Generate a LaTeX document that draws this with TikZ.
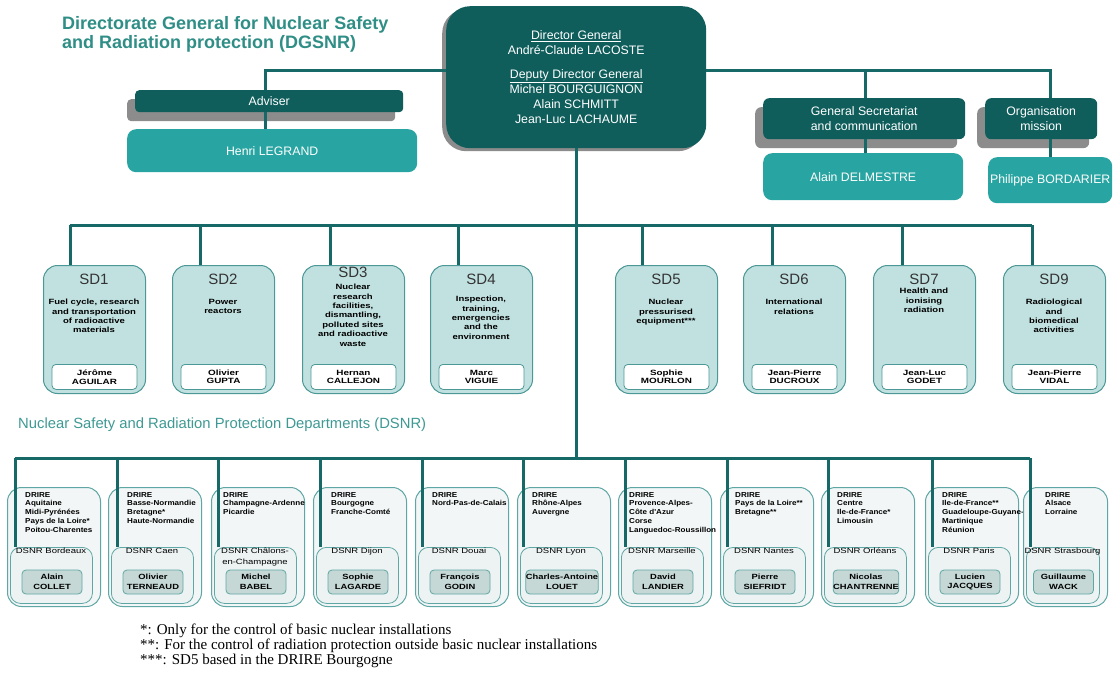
\documentclass[tikz,border=0pt]{standalone}
\usepackage{fontspec}
\setmainfont{Liberation Sans}
\newfontfamily\notefont{Liberation Serif}
\newfontfamily\wideA{Liberation Sans}[FakeStretch=1.25]
\newfontfamily\wideB{Liberation Sans}[FakeStretch=1.12]
\newfontfamily\wideC{Liberation Sans}[FakeStretch=1.3]
\usetikzlibrary{shadows}
\definecolor{dteal}{HTML}{0F5E5C}
\definecolor{mteal}{HTML}{28A5A2}
\definecolor{connc}{HTML}{176967}
\definecolor{titlec}{HTML}{2F8E86}
\definecolor{labc}{HTML}{3E9993}
\definecolor{shadowc}{HTML}{8C8C8C}
\definecolor{sdfill}{HTML}{C1E1E1}
\definecolor{sdborder}{HTML}{4B9896}
\definecolor{ofill}{HTML}{F2F6F6}
\definecolor{ifill}{HTML}{EDF3F3}
\definecolor{obord}{HTML}{5FA7A4}
\definecolor{nfill}{HTML}{C5D8D6}
\tikzset{
  conn/.style={draw=connc, line width=3pt},
  titletext/.style={font=\fontsize{18}{20}\selectfont\bfseries, text=titlec, inner sep=0pt},
  darkbox/.style={fill=dteal, draw=none, text=white, inner sep=0pt, align=center, font=\fontsize{12.3}{15}\selectfont},
  midbox/.style={fill=mteal, draw=none, text=white, inner sep=0pt, align=center, rounded corners=9pt, font=\fontsize{12.3}{15}\selectfont},
  shadowed/.style={drop shadow={shadow xshift=-8pt, shadow yshift=-9pt, fill=shadowc, opacity=1}},
  sdbox/.style={draw=sdborder, line width=1pt, fill=sdfill, rounded corners=14pt, minimum height=128pt, inner sep=0pt},
  sdlabel/.style={font=\fontsize{15}{16}\selectfont, text=black!80, inner sep=0pt},
  sddesc/.style={font=\wideA\fontsize{7.6}{9.4}\selectfont\bfseries, align=center, inner sep=0pt},
  sdname/.style={draw=sdborder, line width=0.8pt, fill=white, rounded corners=4pt, minimum height=25pt, inner sep=0pt, align=center, font=\wideC\fontsize{7.6}{8.6}\selectfont\bfseries},
  outerbox/.style={draw=obord, line width=1pt, fill=ofill, rounded corners=14pt, minimum height=119pt, inner sep=0pt},
  innerbox/.style={draw=obord, line width=0.8pt, fill=ifill, rounded corners=10pt, minimum height=56pt, inner sep=0pt},
  drire/.style={font=\wideB\fontsize{7.2}{8.8}\selectfont\bfseries, align=left, inner sep=0pt},
  dsnrtitle/.style={font=\wideA\fontsize{7.6}{10.5}\selectfont, align=center, inner sep=0pt},
  namebox/.style={draw=obord, line width=0.8pt, fill=nfill, rounded corners=4pt, minimum width=60pt, minimum height=24pt, inner sep=0pt, align=center, font=\wideA\fontsize{7.5}{9.5}\selectfont\bfseries},
  dsnrlabel/.style={font=\fontsize{14.8}{16}\selectfont, text=labc, inner sep=0pt},
  note/.style={font=\notefont\fontsize{15}{15}\selectfont, inner sep=0pt}
}
% SD unit: name, left, width, drop x, label, label y, description, description top y, head
\newcommand{\sdunit}[9]{%
  \pgfmathsetmacro{\sdcx}{#2+#3/2}%
  \pgfmathsetmacro{\sdnw}{#3-17}%
  \node[sdbox, minimum width=#3pt, anchor=north west] (#1) at (#2,265) {};
  \node[sdlabel] (#1l) at (\sdcx,#6) {#5};
  \node[sddesc, anchor=north] (#1t) at (\sdcx,#8) {#7};
  \node[sdname, minimum width=\sdnw pt, anchor=north] (#1n) at (\sdcx+0.5,364) {#9};
  \coordinate (#1d) at (#4,225);
  \draw[conn] (#1d) -- (#1d |- #1.north);
}
% DSNR unit: name, left, width, drop x, text x, DRIRE text, DSNR title, head
\newcommand{\dsnrunit}[8]{%
  \pgfmathsetmacro{\dcx}{#2+3+(#3-11)/2}%
  \pgfmathsetmacro{\diw}{#3-11}%
  \node[outerbox, minimum width=#3pt, anchor=north west] (#1) at (#2,487) {};
  \node[drire, anchor=north west] (#1t) at (#5,492) {#6};
  \node[innerbox, minimum width=\diw pt, anchor=north west] (#1i) at (#2+3,547) {};
  \node[dsnrtitle, anchor=north] (#1s) at (\dcx,548) {#7};
  \node[namebox] (#1n) at (\dcx+1,582) {#8};
  \coordinate (#1d) at (#4,458);
  \draw[conn] (#1d) -- (#1d |- #1i.north);
}
\begin{document}
\begin{tikzpicture}[x=1pt,y=-1pt]
\useasboundingbox[fill=white] (0,0) rectangle (1113,674);

% title
\node[titletext, anchor=base west] (title1) at (62,30) {Directorate General for Nuclear Safety};
\node[titletext, anchor=base west] (title2) at (62,49) {and Radiation protection (DGSNR)};

% top boxes
\node[darkbox, rounded corners=24pt, minimum width=260pt, minimum height=142pt, anchor=north west,
  drop shadow={shadow xshift=-4pt, shadow yshift=-3pt, fill=shadowc, opacity=1},
  font=\fontsize{12.3}{15}\selectfont] (dg) at (446,6)
  {\underline{Director General}\\André-Claude LACOSTE\\[9pt]\underline{Deputy Director General}\\Michel BOURGUIGNON\\Alain SCHMITT\\Jean-Luc LACHAUME};
\node[darkbox, shadowed, rounded corners=4pt, minimum width=268pt, minimum height=22pt, anchor=north west] (adv) at (135,90) {Adviser};
\node[midbox, minimum width=290pt, minimum height=43pt, anchor=north west] (henri) at (127,129) {Henri LEGRAND};
\node[darkbox, shadowed, rounded corners=6pt, minimum width=202pt, minimum height=41pt, anchor=north west] (gs) at (763,98) {General Secretariat\\and communication};
\node[midbox, minimum width=200pt, minimum height=47pt, anchor=north west] (alain) at (763,153) {Alain DELMESTRE};
\node[darkbox, shadowed, rounded corners=6pt, minimum width=112pt, minimum height=41pt, anchor=north west] (org) at (985,98) {Organisation\\mission};
\node[midbox, minimum width=124pt, minimum height=46pt, anchor=north west] (phil) at (988,157) {Philippe BORDARIER};

% top connectors
\coordinate (tl) at (265,71);
\coordinate (tr) at (1050,71);
\coordinate (tg) at (865,71);
\draw[conn] (dg.west |- tl) -- (tl) -- (adv.north -| tl);
\draw[conn] (adv.south -| tl) -- (henri.north -| tl);
\draw[conn] (dg.east |- tr) -- (tr) -- (org.north -| tr);
\draw[conn] (org.south -| tr) -- (phil.north -| tr);
\draw[conn] (tg) -- (gs.north -| tg);
\draw[conn] (gs.south -| tg) -- (alain.north -| tg);

% sub-directorates
\sdunit{sd1}{43}{102}{70}{SD1}{279}{Fuel cycle, research\\and transportation\\of radioactive\\materials}{299}{Jérôme\\AGUILAR}
\sdunit{sd2}{172}{102}{200}{SD2}{279}{Power\\reactors}{299}{Olivier\\GUPTA}
\sdunit{sd3}{302}{102}{330}{SD3}{272}{\fontsize{7.6}{10.2}\selectfont Nuclear\\research\\facilities,\\dismantling,\\polluted sites\\and radioactive\\waste}{284}{Hernan\\CALLEJON}
\sdunit{sd4}{430}{102}{458}{SD4}{279}{Inspection,\\training,\\emergencies\\and the\\environment}{296}{Marc\\VIGUIE}
\sdunit{sd5}{615}{102}{642}{SD5}{279}{Nuclear\\pressurised\\equipment***}{299}{Sophie\\MOURLON}
\sdunit{sd6}{743}{102}{772}{SD6}{279}{International\\relations}{299}{Jean-Pierre\\DUCROUX}
\sdunit{sd7}{873}{102}{902}{SD7}{279}{Health and\\ionising\\radiation}{288}{Jean-Luc\\GODET}
\sdunit{sd9}{1003}{102}{1032}{SD9}{279}{Radiological\\and\\biomedical\\activities}{299}{Jean-Pierre\\VIDAL}

\node[dsnrlabel, anchor=west] (dlabel) at (18,425) {Nuclear Safety and Radiation Protection Departments (DSNR)};

% DSNR units
\dsnrunit{b1}{7}{93}{15}{25}{DRIRE\\Aquitaine\\Midi-Pyrénées\\Pays de la Loire*\\Poitou-Charentes}{DSNR Bordeaux}{Alain\\COLLET}
\dsnrunit{b2}{108}{93}{117}{127}{DRIRE\\Basse-Normandie\\Bretagne*\\Haute-Normandie}{DSNR Caen}{Olivier\\TERNEAUD}
\dsnrunit{b3}{211}{93}{218}{223}{DRIRE\\Champagne-Ardenne\\Picardie}{DSNR Châlons-\\en-Champagne}{Michel\\BABEL}
\dsnrunit{b4}{313}{93}{320}{331}{DRIRE\\Bourgogne\\Franche-Comté}{DSNR Dijon}{Sophie\\LAGARDE}
\dsnrunit{b5}{415}{93}{422}{432}{DRIRE\\Nord-Pas-de-Calais}{DSNR Douai}{François\\GODIN}
\dsnrunit{b6}{517}{93}{523}{532}{DRIRE\\Rhône-Alpes\\Auvergne}{DSNR Lyon}{Charles-Antoine\\LOUET}
\dsnrunit{b7}{618}{93}{625}{629}{DRIRE\\Provence-Alpes-\\Côte d'Azur\\Corse\\Languedoc-Roussillon}{DSNR Marseille}{David\\LANDIER}
\dsnrunit{b8}{720}{93}{727}{735}{DRIRE\\Pays de la Loire**\\Bretagne**}{DSNR Nantes}{Pierre\\SIEFRIDT}
\dsnrunit{b9}{821}{93}{828}{837}{DRIRE\\Centre\\Ile-de-France*\\Limousin}{DSNR Orléans}{Nicolas\\CHANTRENNE}
\dsnrunit{b10}{925}{93}{932}{942}{DRIRE\\Ile-de-France**\\Guadeloupe-Guyane-\\Martinique\\Réunion}{DSNR Paris}{Lucien\\JACQUES}
\dsnrunit{b11}{1023}{84}{1030}{1045}{DRIRE\\Alsace\\Lorraine}{DSNR Strasbourg}{Guillaume\\WACK}

% buses and trunk
\draw[conn] (sd1d) -- (sd9d);
\draw[conn] (b1d) -- (b11d);
\draw[conn] (dg.south) -- (dg.south |- b1d);

% footnotes
\node[note, anchor=base west] (n1) at (140,634) {*: Only for the control of basic nuclear installations};
\node[note, anchor=base west] (n2) at (140,649) {**: For the control of radiation protection outside basic nuclear installations};
\node[note, anchor=base west] (n3) at (140,664) {***: SD5 based in the DRIRE Bourgogne};
\end{tikzpicture}
\end{document}
